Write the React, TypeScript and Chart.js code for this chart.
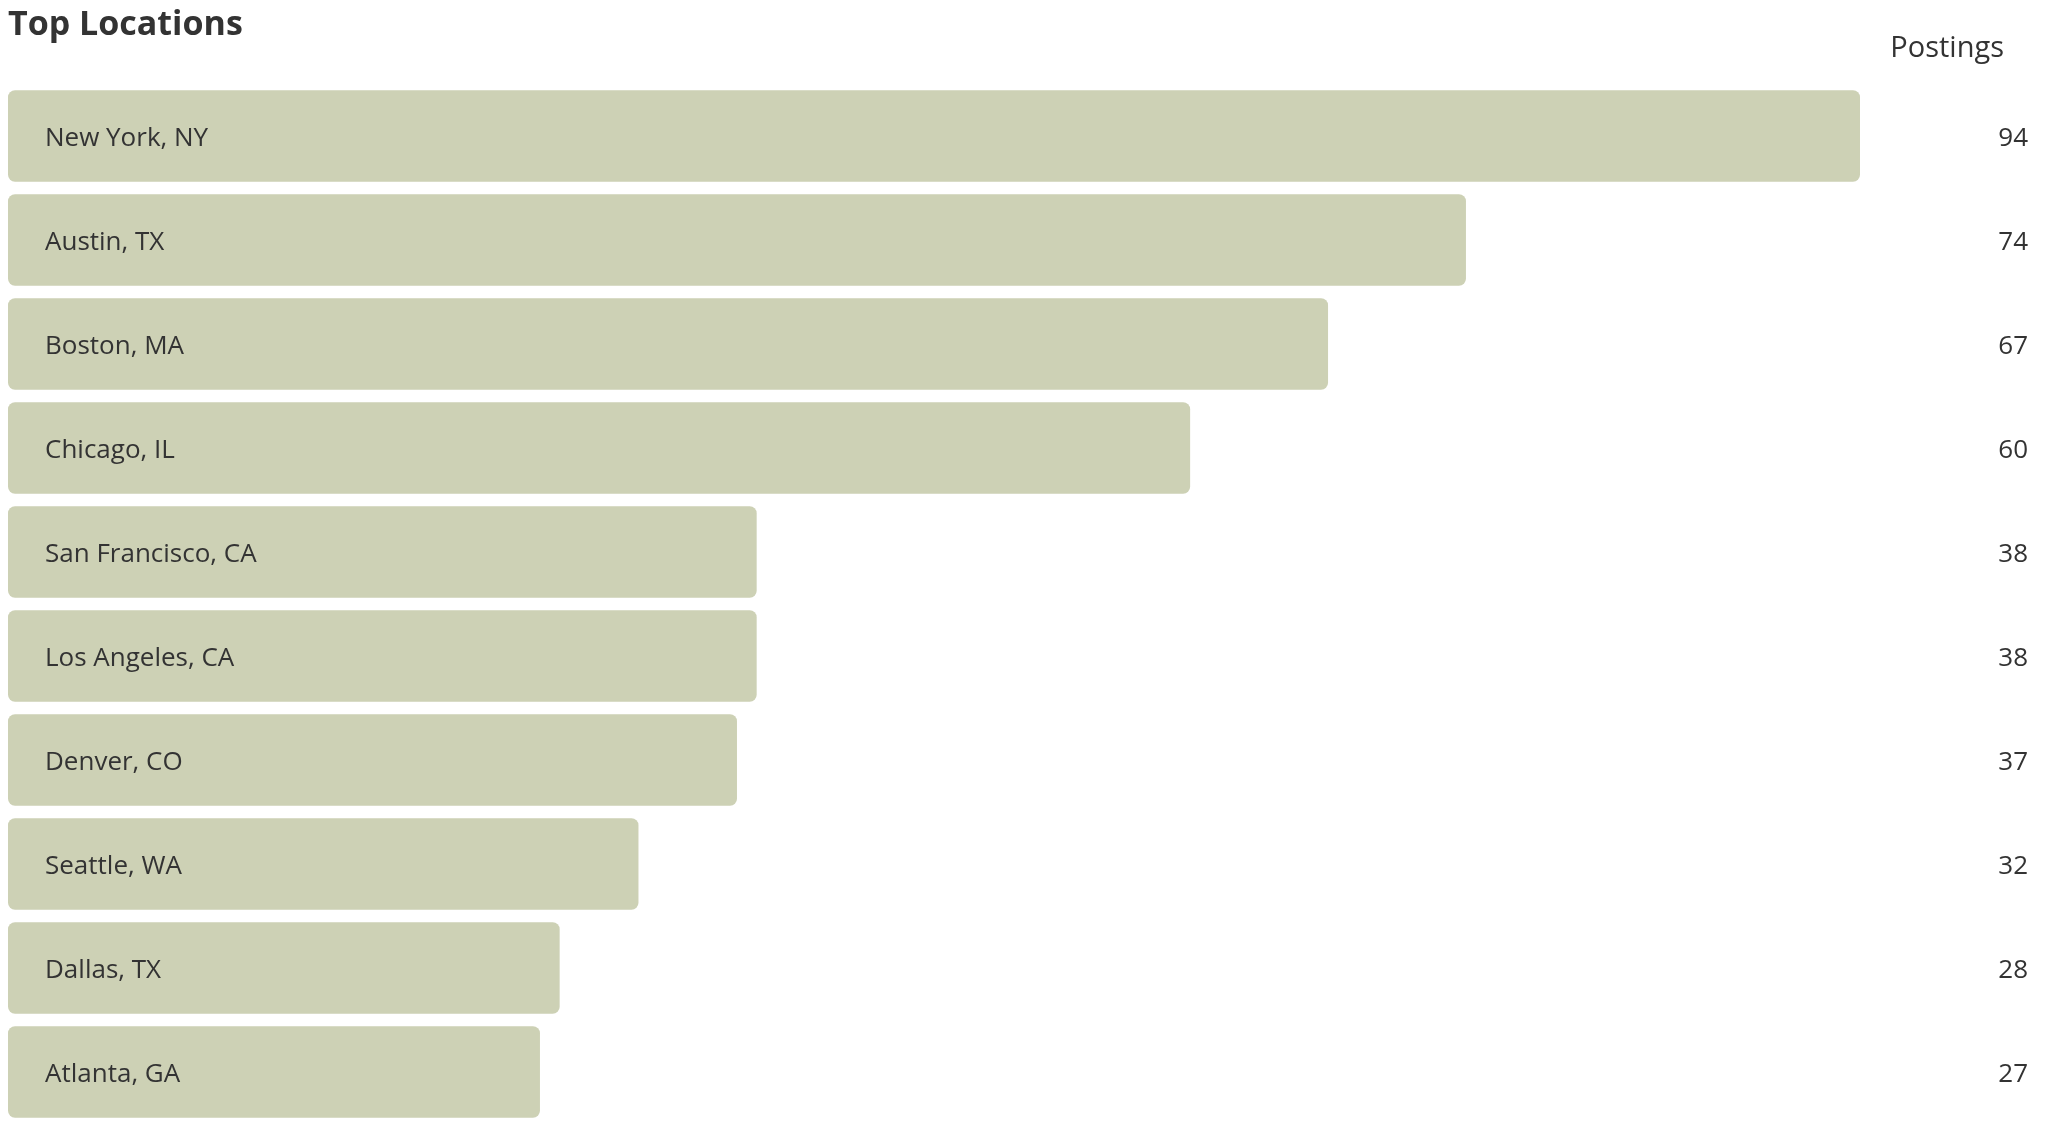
import React, { useEffect, useRef } from "react";
import { Chart, registerables } from "chart.js";

Chart.register(...registerables);

const TITLE = "Top Locations";
const VALUE_HEADER = "Postings";
const locations: string[] = [
  "New York, NY",
  "Austin, TX",
  "Boston, MA",
  "Chicago, IL",
  "San Francisco, CA",
  "Los Angeles, CA",
  "Denver, CO",
  "Seattle, WA",
  "Dallas, TX",
  "Atlanta, GA",
];
const postings: number[] = [94, 74, 67, 60, 38, 38, 37, 32, 28, 27];

const BAR_COLOR = "#CDD1B5";
const TEXT_COLOR = "#333333";
const FONT = "'Open Sans', 'Noto Sans', sans-serif";

const labelsPlugin = {
  id: "rowLabels",
  afterDatasetsDraw(chart: any) {
    const { ctx, chartArea, scales } = chart;
    const y = scales.y;
    ctx.save();
    // title
    ctx.fillStyle = TEXT_COLOR;
    ctx.textBaseline = "alphabetic";
    ctx.textAlign = "left";
    ctx.font = `700 34px ${FONT}`;
    ctx.fillText(TITLE, 0, 27);
    // value header
    ctx.font = `400 29px ${FONT}`;
    ctx.textAlign = "right";
    ctx.fillText(VALUE_HEADER, chart.width - 36, 49);
    // row labels and values
    ctx.font = `400 26px ${FONT}`;
    locations.forEach((name, i) => {
      const cy = y.getPixelForValue(i);
      ctx.textAlign = "left";
      ctx.fillText(name, chartArea.left + 37, cy + 10);
      ctx.textAlign = "right";
      ctx.fillText(String(postings[i]), chart.width - 12, cy + 10);
    });
    ctx.restore();
  },
};

export default function App() {
  const ref = useRef<HTMLCanvasElement | null>(null);
  useEffect(() => {
    if (!ref.current) return;
    const chart = new Chart(ref.current, {
      type: "bar",
      data: {
        labels: locations,
        datasets: [
          {
            data: postings,
            backgroundColor: BAR_COLOR,
            borderRadius: 7,
            borderSkipped: false,
            barPercentage: 0.88,
            categoryPercentage: 1,
          },
        ],
      },
      options: {
        indexAxis: "y",
        responsive: false,
        animation: false,
        layout: { padding: { top: 76, right: 180, bottom: 0, left: 0 } },
        plugins: {
          legend: { display: false },
          tooltip: { enabled: false },
          title: { display: false },
        },
        scales: {
          x: { display: false, min: 0, max: 94 },
          y: { display: false, offset: true },
        },
      },
      plugins: [labelsPlugin],
    });
    return () => chart.destroy();
  }, []);
  return (
    <div style={{ width: 2032, height: 1116 }}>
      <canvas ref={ref} width={2032} height={1116} style={{ display: "block" }} />
    </div>
  );
}
